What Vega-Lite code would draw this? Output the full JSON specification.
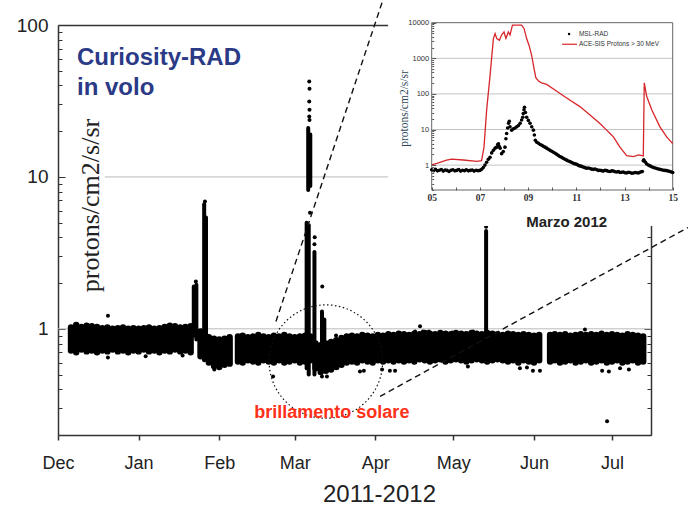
{
  "$schema": "https://vega.github.io/schema/vega-lite/v6.json",
  "width": 593,
  "height": 410,
  "autosize": {"type": "none"},
  "padding": {"left": 58, "top": 25, "right": 37, "bottom": 71},
  "background": "white",
  "config": {"view": {"stroke": null}, "font": "Liberation Sans"},
  "datasets": {
    "grid": [{"v": 1, "from": 0, "to": 228}, {"v": 10, "from": 18, "to": 228}],
    "band": [
      {"day": 5, "lo": 0.72, "hi": 1.02}, {"day": 7, "lo": 0.70, "hi": 1.06}, {"day": 9, "lo": 0.73, "hi": 1.03}, {"day": 11, "lo": 0.71, "hi": 1.05},
      {"day": 13, "lo": 0.72, "hi": 1.04}, {"day": 15, "lo": 0.70, "hi": 1.03}, {"day": 17, "lo": 0.72, "hi": 1.01}, {"day": 19, "lo": 0.71, "hi": 1.02},
      {"day": 21, "lo": 0.73, "hi": 1.00}, {"day": 23, "lo": 0.71, "hi": 1.01}, {"day": 25, "lo": 0.72, "hi": 1.02}, {"day": 27, "lo": 0.70, "hi": 1.00},
      {"day": 29, "lo": 0.72, "hi": 1.01}, {"day": 31, "lo": 0.71, "hi": 1.00}, {"day": 33, "lo": 0.73, "hi": 1.01}, {"day": 35, "lo": 0.71, "hi": 1.02},
      {"day": 37, "lo": 0.72, "hi": 1.00}, {"day": 39, "lo": 0.70, "hi": 1.01}, {"day": 41, "lo": 0.72, "hi": 1.03}, {"day": 43, "lo": 0.71, "hi": 1.05},
      {"day": 45, "lo": 0.73, "hi": 1.04}, {"day": 47, "lo": 0.71, "hi": 1.02}, {"day": 49, "lo": 0.72, "hi": 1.03}, {"day": 51, "lo": 0.70, "hi": 1.04},
      {"day": 54.8, "lo": 0.66, "hi": 0.96}, {"day": 56.5, "lo": 0.64, "hi": 0.92}, {"day": 58, "lo": 0.60, "hi": 0.88}, {"day": 60, "lo": 0.57, "hi": 0.86},
      {"day": 62, "lo": 0.56, "hi": 0.85}, {"day": 64, "lo": 0.58, "hi": 0.86}, {"day": 66, "lo": 0.59, "hi": 0.88},
      {"day": 69.2, "lo": 0.61, "hi": 0.89}, {"day": 71, "lo": 0.60, "hi": 0.90}, {"day": 73, "lo": 0.62, "hi": 0.88}, {"day": 75, "lo": 0.61, "hi": 0.89},
      {"day": 77, "lo": 0.60, "hi": 0.91}, {"day": 79, "lo": 0.62, "hi": 0.89}, {"day": 81, "lo": 0.61, "hi": 0.88}, {"day": 83, "lo": 0.60, "hi": 0.90},
      {"day": 85, "lo": 0.62, "hi": 0.89}, {"day": 87, "lo": 0.60, "hi": 0.91}, {"day": 89, "lo": 0.61, "hi": 0.89}, {"day": 91, "lo": 0.62, "hi": 0.88},
      {"day": 93, "lo": 0.60, "hi": 0.89}, {"day": 95, "lo": 0.61, "hi": 0.90}, {"day": 97, "lo": 0.62, "hi": 0.89},
      {"day": 99, "lo": 0.55, "hi": 0.80}, {"day": 101, "lo": 0.52, "hi": 0.78}, {"day": 103, "lo": 0.53, "hi": 0.80}, {"day": 105, "lo": 0.54, "hi": 0.82},
      {"day": 107, "lo": 0.56, "hi": 0.84}, {"day": 109, "lo": 0.58, "hi": 0.87}, {"day": 111, "lo": 0.60, "hi": 0.89}, {"day": 113, "lo": 0.61, "hi": 0.90},
      {"day": 115, "lo": 0.60, "hi": 0.89}, {"day": 117, "lo": 0.62, "hi": 0.91}, {"day": 119, "lo": 0.61, "hi": 0.90}, {"day": 121, "lo": 0.60, "hi": 0.89},
      {"day": 123, "lo": 0.62, "hi": 0.91}, {"day": 125, "lo": 0.61, "hi": 0.90}, {"day": 127, "lo": 0.62, "hi": 0.92}, {"day": 129, "lo": 0.61, "hi": 0.91},
      {"day": 131, "lo": 0.62, "hi": 0.93}, {"day": 133, "lo": 0.61, "hi": 0.92}, {"day": 135, "lo": 0.62, "hi": 0.91}, {"day": 137, "lo": 0.61, "hi": 0.93},
      {"day": 139, "lo": 0.63, "hi": 0.92}, {"day": 141, "lo": 0.62, "hi": 0.94}, {"day": 143, "lo": 0.61, "hi": 0.93}, {"day": 145, "lo": 0.62, "hi": 0.92},
      {"day": 147, "lo": 0.63, "hi": 0.94}, {"day": 149, "lo": 0.61, "hi": 0.93}, {"day": 151, "lo": 0.62, "hi": 0.92}, {"day": 153, "lo": 0.63, "hi": 0.94},
      {"day": 155, "lo": 0.62, "hi": 0.93}, {"day": 157, "lo": 0.61, "hi": 0.92}, {"day": 159, "lo": 0.62, "hi": 0.94}, {"day": 161, "lo": 0.63, "hi": 0.93},
      {"day": 163, "lo": 0.62, "hi": 0.92}, {"day": 165, "lo": 0.61, "hi": 0.94}, {"day": 167, "lo": 0.62, "hi": 0.93}, {"day": 169, "lo": 0.63, "hi": 0.92},
      {"day": 171, "lo": 0.62, "hi": 0.91}, {"day": 173, "lo": 0.61, "hi": 0.93}, {"day": 175, "lo": 0.62, "hi": 0.92}, {"day": 177, "lo": 0.60, "hi": 0.91},
      {"day": 179, "lo": 0.62, "hi": 0.92}, {"day": 181, "lo": 0.61, "hi": 0.91}, {"day": 183, "lo": 0.60, "hi": 0.90}, {"day": 185, "lo": 0.62, "hi": 0.91},
      {"day": 189.2, "lo": 0.61, "hi": 0.91}, {"day": 191, "lo": 0.62, "hi": 0.92}, {"day": 193, "lo": 0.60, "hi": 0.91}, {"day": 195, "lo": 0.61, "hi": 0.92},
      {"day": 197, "lo": 0.62, "hi": 0.90}, {"day": 199, "lo": 0.60, "hi": 0.91}, {"day": 201, "lo": 0.61, "hi": 0.92}, {"day": 203, "lo": 0.62, "hi": 0.91},
      {"day": 205, "lo": 0.60, "hi": 0.92}, {"day": 207, "lo": 0.61, "hi": 0.91}, {"day": 209, "lo": 0.62, "hi": 0.93}, {"day": 211, "lo": 0.60, "hi": 0.91},
      {"day": 213, "lo": 0.61, "hi": 0.92}, {"day": 215, "lo": 0.62, "hi": 0.91}, {"day": 217, "lo": 0.60, "hi": 0.90}, {"day": 219, "lo": 0.61, "hi": 0.92},
      {"day": 221, "lo": 0.62, "hi": 0.91}, {"day": 223, "lo": 0.60, "hi": 0.90}, {"day": 225, "lo": 0.61, "hi": 0.89}
    ],
    "spikes": [
      {"day": 52.2, "lo": 0.9, "hi": 1.9}, {"day": 53.2, "lo": 0.85, "hi": 1.95},
      {"day": 56.2, "lo": 0.62, "hi": 6.6}, {"day": 56.9, "lo": 0.7, "hi": 5.4},
      {"day": 95.6, "lo": 0.55, "hi": 5.0}, {"day": 96.4, "lo": 0.5, "hi": 4.8},
      {"day": 96.2, "lo": 8.2, "hi": 21}, {"day": 97.0, "lo": 8.7, "hi": 19},
      {"day": 98.6, "lo": 0.5, "hi": 3.2},
      {"day": 101.5, "lo": 0.55, "hi": 1.3}, {"day": 102.4, "lo": 0.6, "hi": 1.15},
      {"day": 164.6, "lo": 0.9, "hi": 4.4}
    ],
    "dots": [
      {"day": 56.5, "v": 6.9}, {"day": 96.9, "v": 5.8}, {"day": 96.7, "v": 23.7}, {"day": 96.6, "v": 25}, {"day": 96.7, "v": 27.7},
      {"day": 96.6, "v": 31.4}, {"day": 96.7, "v": 38}, {"day": 96.6, "v": 42.4}, {"day": 98.6, "v": 3.6}, {"day": 98.7, "v": 4.0},
      {"day": 101.6, "v": 1.9}, {"day": 164.6, "v": 4.7}, {"day": 53, "v": 2.05},
      {"day": 19.2, "v": 1.22}, {"day": 19.2, "v": 0.647}, {"day": 33.7, "v": 0.66}, {"day": 47.9, "v": 0.667}, {"day": 60.1, "v": 0.54},
      {"day": 66.1, "v": 0.6}, {"day": 82.7, "v": 0.486}, {"day": 101.5, "v": 0.486}, {"day": 103.4, "v": 0.486}, {"day": 116.1, "v": 0.524},
      {"day": 117.6, "v": 0.53}, {"day": 124.6, "v": 0.54}, {"day": 127.6, "v": 0.53}, {"day": 129.6, "v": 0.53}, {"day": 106.9, "v": 0.904},
      {"day": 137.3, "v": 0.96}, {"day": 139.2, "v": 1.04}, {"day": 140.3, "v": 0.96}, {"day": 142.6, "v": 0.96}, {"day": 151.5, "v": 0.946},
      {"day": 159.6, "v": 0.96}, {"day": 157.6, "v": 0.565}, {"day": 177.6, "v": 0.55}, {"day": 180.3, "v": 0.557}, {"day": 182.6, "v": 0.53},
      {"day": 185.3, "v": 0.53}, {"day": 202.6, "v": 0.99}, {"day": 209.2, "v": 0.53}, {"day": 211.8, "v": 0.524}, {"day": 216.1, "v": 0.55},
      {"day": 219.5, "v": 0.54}, {"day": 211.1, "v": 0.246}
    ],
    "dash": [
      {"seg": "a", "day": 83.8, "v": 1.117}, {"seg": "a", "day": 124.95, "v": 146.7},
      {"seg": "b", "day": 123.8, "v": 0.359}, {"seg": "b", "day": 242.2, "v": 4.64}
    ],
    "circle": [{"day": 103, "v": 0.609}],
    "title1": [{"day": 7.3, "v": 54.8, "label": "Curiosity-RAD"}, {"day": 7.3, "v": 34.8, "label": "in volo"}],
    "note": [{"day": 105.3, "v": 0.257, "label": "brillamento solare"}],
    "ibg": [{"a": 3.19, "b": 15.63, "lo": 0.0195, "hi": 43500}],
    "igrid": [{"v": 1, "a": 5, "b": 15}, {"v": 10, "a": 5, "b": 15}, {"v": 100, "a": 5, "b": 15}, {"v": 1000, "a": 5, "b": 15}],
    "iframe": [{"a": 5, "b": 15, "lo": 0.2, "hi": 10000}],
    "ace": [
      {"d": 5.00, "v": 1.02}, {"d": 5.21, "v": 1.12}, {"d": 5.62, "v": 1.39}, {"d": 5.83, "v": 1.48}, {"d": 6.31, "v": 1.39},
      {"d": 6.87, "v": 1.27}, {"d": 7.07, "v": 1.33}, {"d": 7.17, "v": 3.2}, {"d": 7.28, "v": 35.7}, {"d": 7.42, "v": 320},
      {"d": 7.56, "v": 3580}, {"d": 7.63, "v": 4950}, {"d": 7.70, "v": 3580}, {"d": 7.81, "v": 3200}, {"d": 7.90, "v": 4500},
      {"d": 8.00, "v": 5500}, {"d": 8.08, "v": 3600}, {"d": 8.18, "v": 5500}, {"d": 8.25, "v": 4500}, {"d": 8.35, "v": 8500},
      {"d": 8.73, "v": 8500}, {"d": 8.83, "v": 6900}, {"d": 8.94, "v": 3580}, {"d": 9.04, "v": 2300}, {"d": 9.15, "v": 1190},
      {"d": 9.25, "v": 500}, {"d": 9.32, "v": 285}, {"d": 9.43, "v": 230}, {"d": 9.56, "v": 205}, {"d": 9.77, "v": 185},
      {"d": 10.19, "v": 119}, {"d": 10.60, "v": 77}, {"d": 11.15, "v": 44}, {"d": 11.57, "v": 25.7}, {"d": 11.98, "v": 14.8},
      {"d": 12.26, "v": 9.6}, {"d": 12.40, "v": 7.7}, {"d": 12.54, "v": 6.2}, {"d": 12.81, "v": 3.2}, {"d": 13.09, "v": 1.85},
      {"d": 13.37, "v": 1.73}, {"d": 13.58, "v": 1.93}, {"d": 13.78, "v": 1.81}, {"d": 13.82, "v": 205}, {"d": 13.92, "v": 86},
      {"d": 14.13, "v": 35.7}, {"d": 14.47, "v": 11.9}, {"d": 14.75, "v": 6.2}, {"d": 15.00, "v": 4.0}
    ],
    "msl": [
      {"d": 5.00, "v": 0.74}, {"d": 5.08, "v": 0.70}, {"d": 5.16, "v": 0.76}, {"d": 5.24, "v": 0.69}, {"d": 5.32, "v": 0.72},
      {"d": 5.40, "v": 0.75}, {"d": 5.48, "v": 0.68}, {"d": 5.56, "v": 0.73}, {"d": 5.64, "v": 0.71}, {"d": 5.72, "v": 0.66},
      {"d": 5.80, "v": 0.72}, {"d": 5.88, "v": 0.74}, {"d": 5.96, "v": 0.69}, {"d": 6.04, "v": 0.71}, {"d": 6.12, "v": 0.75},
      {"d": 6.20, "v": 0.68}, {"d": 6.28, "v": 0.72}, {"d": 6.36, "v": 0.70}, {"d": 6.44, "v": 0.74}, {"d": 6.52, "v": 0.69},
      {"d": 6.60, "v": 0.71}, {"d": 6.68, "v": 0.73}, {"d": 6.76, "v": 0.68}, {"d": 6.84, "v": 0.72}, {"d": 6.92, "v": 0.70},
      {"d": 7.00, "v": 0.71}, {"d": 7.07, "v": 0.76}, {"d": 7.14, "v": 0.86}, {"d": 7.21, "v": 1.0}, {"d": 7.28, "v": 1.2},
      {"d": 7.35, "v": 1.45}, {"d": 7.42, "v": 1.65}, {"d": 7.49, "v": 2.2}, {"d": 7.56, "v": 2.6}, {"d": 7.63, "v": 3.0},
      {"d": 7.70, "v": 3.2}, {"d": 7.74, "v": 3.8}, {"d": 7.77, "v": 4.0}, {"d": 7.80, "v": 3.4}, {"d": 7.84, "v": 3.0},
      {"d": 7.90, "v": 2.1}, {"d": 7.97, "v": 2.4}, {"d": 8.04, "v": 3.2}, {"d": 8.08, "v": 5.5}, {"d": 8.11, "v": 7.7},
      {"d": 8.15, "v": 11}, {"d": 8.19, "v": 15}, {"d": 8.22, "v": 17}, {"d": 8.25, "v": 12}, {"d": 8.32, "v": 9.6},
      {"d": 8.39, "v": 10.5}, {"d": 8.46, "v": 11}, {"d": 8.53, "v": 12}, {"d": 8.60, "v": 13}, {"d": 8.67, "v": 15},
      {"d": 8.73, "v": 18.5}, {"d": 8.78, "v": 22}, {"d": 8.80, "v": 28}, {"d": 8.83, "v": 36}, {"d": 8.85, "v": 42},
      {"d": 8.89, "v": 30}, {"d": 8.94, "v": 22}, {"d": 9.01, "v": 18}, {"d": 9.08, "v": 15}, {"d": 9.15, "v": 12},
      {"d": 9.22, "v": 9.6}, {"d": 9.26, "v": 7}, {"d": 9.30, "v": 5}, {"d": 9.36, "v": 4.4}, {"d": 9.43, "v": 4.1},
      {"d": 9.50, "v": 3.8}, {"d": 9.57, "v": 3.6}, {"d": 9.63, "v": 3.4}, {"d": 9.70, "v": 3.2}, {"d": 9.77, "v": 3.0},
      {"d": 9.84, "v": 2.8}, {"d": 9.91, "v": 2.6}, {"d": 9.98, "v": 2.45}, {"d": 10.05, "v": 2.3}, {"d": 10.12, "v": 2.15},
      {"d": 10.19, "v": 2.0}, {"d": 10.26, "v": 1.85}, {"d": 10.32, "v": 1.75}, {"d": 10.39, "v": 1.65}, {"d": 10.46, "v": 1.55},
      {"d": 10.53, "v": 1.46}, {"d": 10.60, "v": 1.38}, {"d": 10.67, "v": 1.3}, {"d": 10.74, "v": 1.25}, {"d": 10.81, "v": 1.18},
      {"d": 10.88, "v": 1.12}, {"d": 10.95, "v": 1.08}, {"d": 11.02, "v": 1.05}, {"d": 11.09, "v": 0.98}, {"d": 11.15, "v": 0.95},
      {"d": 11.22, "v": 0.92}, {"d": 11.29, "v": 0.88}, {"d": 11.36, "v": 0.85}, {"d": 11.43, "v": 0.82}, {"d": 11.50, "v": 0.83},
      {"d": 11.57, "v": 0.8}, {"d": 11.64, "v": 0.77}, {"d": 11.71, "v": 0.76}, {"d": 11.78, "v": 0.78}, {"d": 11.85, "v": 0.74},
      {"d": 11.92, "v": 0.71}, {"d": 11.98, "v": 0.72}, {"d": 12.05, "v": 0.70}, {"d": 12.12, "v": 0.68}, {"d": 12.19, "v": 0.72},
      {"d": 12.26, "v": 0.70}, {"d": 12.33, "v": 0.67}, {"d": 12.40, "v": 0.66}, {"d": 12.47, "v": 0.69}, {"d": 12.54, "v": 0.68},
      {"d": 12.61, "v": 0.65}, {"d": 12.68, "v": 0.64}, {"d": 12.75, "v": 0.66}, {"d": 12.81, "v": 0.62}, {"d": 12.88, "v": 0.63},
      {"d": 12.95, "v": 0.64}, {"d": 13.02, "v": 0.61}, {"d": 13.09, "v": 0.60}, {"d": 13.16, "v": 0.63}, {"d": 13.23, "v": 0.62},
      {"d": 13.30, "v": 0.59}, {"d": 13.37, "v": 0.60}, {"d": 13.44, "v": 0.62}, {"d": 13.51, "v": 0.61}, {"d": 13.58, "v": 0.60},
      {"d": 13.64, "v": 0.63}, {"d": 13.70, "v": 0.65}, {"d": 13.74, "v": 0.66}, {"d": 13.78, "v": 1.33}, {"d": 13.80, "v": 1.4},
      {"d": 13.82, "v": 1.3}, {"d": 13.87, "v": 1.2}, {"d": 13.92, "v": 1.07}, {"d": 13.99, "v": 1.0}, {"d": 14.06, "v": 0.95},
      {"d": 14.13, "v": 0.9}, {"d": 14.20, "v": 0.86}, {"d": 14.27, "v": 0.83}, {"d": 14.34, "v": 0.8}, {"d": 14.40, "v": 0.78},
      {"d": 14.47, "v": 0.76}, {"d": 14.54, "v": 0.74}, {"d": 14.61, "v": 0.72}, {"d": 14.68, "v": 0.71}, {"d": 14.75, "v": 0.7},
      {"d": 14.82, "v": 0.68}, {"d": 14.89, "v": 0.66}, {"d": 14.95, "v": 0.64}, {"d": 15.00, "v": 0.62}
    ],
    "ilegdot": [{"d": 10.70, "v": 4820}],
    "ilegline": [{"a": 10.41, "b": 11.03, "v": 2480}],
    "ilegtext": [{"d": 11.11, "v": 4820, "label": "MSL-RAD"}, {"d": 11.11, "v": 2480, "label": "ACE-SIS Protons > 30 MeV"}],
    "imonth": [{"d": 10.6, "v": 0.0186, "label": "Marzo 2012"}]
  },
  "layer": [
    {
      "layer": [
        {
          "data": {"name": "grid"},
          "mark": {"type": "rule", "color": "#bbbbbb", "strokeWidth": 1},
          "encoding": {
            "x": {"field": "from", "type": "quantitative", "scale": {"domain": [0, 228], "nice": false, "zero": false},
              "axis": {"orient": "bottom", "values": [0, 31, 62, 91, 122, 152, 183, 213],
                "labelExpr": "['Dec','Jan','Feb','Mar','Apr','May','Jun','Jul'][indexof([0,31,62,91,122,152,183,213], datum.value)]",
                "labelFontSize": 18, "labelColor": "#222", "labelPadding": 14, "labelDx": -6, "labelFlush": false, "labelOverlap": false,
                "tickSize": 5, "tickColor": "#333", "tickWidth": 1.5, "domainColor": "#333", "domainWidth": 1.5, "grid": false,
                "title": "2011-2012", "titleFontSize": 24, "titleFontWeight": "normal", "titleColor": "#222",
                "titleX": 321, "titleY": 66, "titleAlign": "center", "titleBaseline": "alphabetic"}},
            "x2": {"field": "to"},
            "y": {"field": "v", "type": "quantitative", "scale": {"type": "log", "domain": [0.2, 100], "nice": false},
              "axis": {"orient": "left", "values": [1, 10, 100], "format": "d", "ticks": false, "labelFontSize": 19, "labelColor": "#222",
                "labelPadding": 10, "labelFlush": false, "labelOverlap": false, "domainColor": "#333", "domainWidth": 1.5, "grid": false,
                "title": "protons/cm2/s/sr", "titleFont": "Liberation Serif", "titleFontSize": 26, "titleFontWeight": "normal", "titleColor": "#222",
                "titleX": 40, "titleY": 180, "titleAngle": 270, "titleAlign": "center", "titleBaseline": "alphabetic"}}
          }
        },
        {
          "data": {"name": "band"},
          "mark": {"type": "rule", "color": "#000", "strokeWidth": 6.4, "strokeCap": "round"},
          "encoding": {
            "x": {"field": "day", "type": "quantitative", "axis": null},
            "y": {"field": "lo", "type": "quantitative", "axis": null},
            "y2": {"field": "hi"}
          }
        },
        {
          "data": {"name": "spikes"},
          "mark": {"type": "rule", "color": "#000", "strokeWidth": 4, "strokeCap": "round"},
          "encoding": {
            "x": {"field": "day", "type": "quantitative", "axis": null},
            "y": {"field": "lo", "type": "quantitative", "axis": null},
            "y2": {"field": "hi"}
          }
        },
        {
          "data": {"name": "dots"},
          "mark": {"type": "point", "shape": "circle", "filled": true, "color": "#000", "size": 16, "opacity": 1},
          "encoding": {
            "x": {"field": "day", "type": "quantitative", "axis": null},
            "y": {"field": "v", "type": "quantitative", "axis": null}
          }
        },
        {
          "data": {"name": "dash"},
          "mark": {"type": "line", "color": "#111", "strokeWidth": 1.4, "strokeDash": [6, 4]},
          "encoding": {
            "x": {"field": "day", "type": "quantitative",
              "axis": {"orient": "top", "ticks": false, "labels": false, "domainColor": "#333", "domainWidth": 1.5, "grid": false, "title": null}},
            "y": {"field": "v", "type": "quantitative",
              "axis": {"orient": "right", "values": [0.2, 0.3, 0.4, 0.5, 0.6, 0.7, 0.8, 0.9, 1, 2, 3, 4, 5, 6, 7, 8, 9, 10, 20, 30, 40, 50, 60, 70, 80, 90, 100],
                "labels": false, "grid": false, "title": null, "domainColor": "#333", "domainWidth": 1.5, "tickColor": "#333",
                "tickSize": {"condition": {"test": "datum.value == 1 || datum.value == 10 || datum.value == 100", "value": -7}, "value": -4}}},
            "detail": {"field": "seg"}
          }
        },
        {
          "data": {"name": "circle"},
          "mark": {"type": "point", "shape": "circle", "filled": false, "size": 12868, "stroke": "#111", "strokeWidth": 1.2, "strokeDash": [1.5, 2.5], "opacity": 1},
          "encoding": {
            "x": {"field": "day", "type": "quantitative", "axis": null},
            "y": {"field": "v", "type": "quantitative",
              "axis": {"orient": "left", "values": [0.2, 0.3, 0.4, 0.5, 0.6, 0.7, 0.8, 0.9, 1, 2, 3, 4, 5, 6, 7, 8, 9, 10, 20, 30, 40, 50, 60, 70, 80, 90, 100],
                "labels": false, "domain": false, "grid": false, "title": null, "tickColor": "#333",
                "tickSize": {"condition": {"test": "datum.value == 1 || datum.value == 10 || datum.value == 100", "value": -7}, "value": -4}}}
          }
        },
        {
          "data": {"name": "title1"},
          "mark": {"type": "text", "font": "Liberation Sans", "fontWeight": "bold", "fontSize": 24, "color": "#2b3a86", "align": "left", "baseline": "alphabetic"},
          "encoding": {
            "x": {"field": "day", "type": "quantitative", "axis": null},
            "y": {"field": "v", "type": "quantitative", "axis": null},
            "text": {"field": "label"}
          }
        },
        {
          "data": {"name": "note"},
          "mark": {"type": "text", "font": "Liberation Sans", "fontWeight": "bold", "fontSize": 18, "color": "#ff3219", "align": "center", "baseline": "alphabetic"},
          "encoding": {
            "x": {"field": "day", "type": "quantitative", "axis": null},
            "y": {"field": "v", "type": "quantitative", "axis": null},
            "text": {"field": "label"}
          }
        }
      ],
      "resolve": {"axis": {"x": "independent", "y": "independent"}}
    },
    {
      "layer": [
        {
          "data": {"name": "ibg"},
          "mark": {"type": "rect", "fill": "white", "stroke": null},
          "encoding": {
            "x": {"field": "a", "type": "quantitative", "scale": {"domain": [5, 15], "range": [373.7, 614.7], "nice": false, "zero": false}, "axis": null},
            "x2": {"field": "b"},
            "y": {"field": "lo", "type": "quantitative", "scale": {"type": "log", "domain": [0.2, 10000], "range": [165, -2.3], "nice": false}, "axis": null},
            "y2": {"field": "hi"}
          }
        },
        {
          "data": {"name": "igrid"},
          "mark": {"type": "rule", "color": "#b5b5b5", "strokeWidth": 0.8},
          "encoding": {
            "x": {"field": "a", "type": "quantitative", "scale": {"domain": [5, 15], "range": [373.7, 614.7], "nice": false, "zero": false},
              "axis": {"orient": "bottom", "offset": -245, "values": [5, 6, 7, 8, 9, 10, 11, 12, 13, 14, 15], "labels": false, "domain": false,
                "grid": false, "title": null, "tickSize": -3, "tickColor": "#555", "zindex": 1}},
            "x2": {"field": "b"},
            "y": {"field": "v", "type": "quantitative", "scale": {"type": "log", "domain": [0.2, 10000], "range": [165, -2.3], "nice": false},
              "axis": {"orient": "left", "offset": -373.7,
                "values": [0.2, 0.3, 0.4, 0.5, 0.6, 0.7, 0.8, 0.9, 1, 2, 3, 4, 5, 6, 7, 8, 9, 10, 20, 30, 40, 50, 60, 70, 80, 90, 100, 200, 300, 400, 500, 600, 700, 800, 900, 1000, 2000, 3000, 4000, 5000, 6000, 7000, 8000, 9000, 10000],
                "labels": false, "domain": false, "grid": false, "title": null, "tickColor": "#555", "zindex": 1,
                "tickSize": {"condition": {"test": "datum.value == 1 || datum.value == 10 || datum.value == 100 || datum.value == 1000 || datum.value == 10000", "value": -4}, "value": -2}}}
          }
        },
        {
          "data": {"name": "iframe"},
          "mark": {"type": "rect", "fill": null, "fillOpacity": 0, "stroke": "#666", "strokeWidth": 1},
          "encoding": {
            "x": {"field": "a", "type": "quantitative", "scale": {"domain": [5, 15], "range": [373.7, 614.7], "nice": false, "zero": false},
              "axis": {"orient": "bottom", "offset": -245, "values": [5, 7, 9, 11, 13, 15], "format": "02d", "ticks": false, "domain": false,
                "labelFont": "Liberation Serif", "labelFontSize": 9.5, "labelFontWeight": "bold", "labelColor": "#333", "labelPadding": 2,
                "labelFlush": false, "labelOverlap": false, "grid": false, "title": null, "zindex": 1}},
            "x2": {"field": "b"},
            "y": {"field": "lo", "type": "quantitative", "scale": {"type": "log", "domain": [0.2, 10000], "range": [165, -2.3], "nice": false},
              "axis": {"orient": "left", "offset": -373.7, "values": [1, 10, 100, 1000, 10000], "format": "d", "ticks": false, "domain": false,
                "labelFontSize": 7.5, "labelColor": "#333", "labelPadding": 3, "labelFlush": false, "labelOverlap": false, "grid": false, "zindex": 1,
                "title": "protons/cm2/s/sr", "titleFont": "Liberation Serif", "titleFontSize": 11.5, "titleFontWeight": "normal", "titleColor": "#2f4858",
                "titleX": -24, "titleY": 83, "titleAngle": 270, "titleAlign": "center", "titleBaseline": "alphabetic"}},
            "y2": {"field": "hi"}
          }
        },
        {
          "data": {"name": "ace"},
          "mark": {"type": "line", "color": "#d7262b", "strokeWidth": 1.3},
          "encoding": {
            "x": {"field": "d", "type": "quantitative", "scale": {"domain": [5, 15], "range": [373.7, 614.7], "nice": false, "zero": false}, "axis": null},
            "y": {"field": "v", "type": "quantitative", "scale": {"type": "log", "domain": [0.2, 10000], "range": [165, -2.3], "nice": false}, "axis": null}
          }
        },
        {
          "data": {"name": "msl"},
          "mark": {"type": "point", "shape": "circle", "filled": true, "color": "#000", "size": 13, "opacity": 1},
          "encoding": {
            "x": {"field": "d", "type": "quantitative", "scale": {"domain": [5, 15], "range": [373.7, 614.7], "nice": false, "zero": false}, "axis": null},
            "y": {"field": "v", "type": "quantitative", "scale": {"type": "log", "domain": [0.2, 10000], "range": [165, -2.3], "nice": false}, "axis": null}
          }
        },
        {
          "data": {"name": "ilegdot"},
          "mark": {"type": "point", "shape": "circle", "filled": true, "color": "#000", "size": 6, "opacity": 1},
          "encoding": {
            "x": {"field": "d", "type": "quantitative", "scale": {"domain": [5, 15], "range": [373.7, 614.7], "nice": false, "zero": false}, "axis": null},
            "y": {"field": "v", "type": "quantitative", "scale": {"type": "log", "domain": [0.2, 10000], "range": [165, -2.3], "nice": false}, "axis": null}
          }
        },
        {
          "data": {"name": "ilegline"},
          "mark": {"type": "rule", "color": "#d7262b", "strokeWidth": 1.2},
          "encoding": {
            "x": {"field": "a", "type": "quantitative", "scale": {"domain": [5, 15], "range": [373.7, 614.7], "nice": false, "zero": false}, "axis": null},
            "x2": {"field": "b"},
            "y": {"field": "v", "type": "quantitative", "scale": {"type": "log", "domain": [0.2, 10000], "range": [165, -2.3], "nice": false}, "axis": null}
          }
        },
        {
          "data": {"name": "ilegtext"},
          "mark": {"type": "text", "fontSize": 6.5, "color": "#333", "align": "left", "baseline": "middle"},
          "encoding": {
            "x": {"field": "d", "type": "quantitative", "scale": {"domain": [5, 15], "range": [373.7, 614.7], "nice": false, "zero": false}, "axis": null},
            "y": {"field": "v", "type": "quantitative", "scale": {"type": "log", "domain": [0.2, 10000], "range": [165, -2.3], "nice": false}, "axis": null},
            "text": {"field": "label"}
          }
        },
        {
          "data": {"name": "imonth"},
          "mark": {"type": "text", "fontSize": 15, "fontWeight": "bold", "color": "#222", "align": "center", "baseline": "alphabetic"},
          "encoding": {
            "x": {"field": "d", "type": "quantitative", "scale": {"domain": [5, 15], "range": [373.7, 614.7], "nice": false, "zero": false}, "axis": null},
            "y": {"field": "v", "type": "quantitative", "scale": {"type": "log", "domain": [0.2, 10000], "range": [165, -2.3], "nice": false}, "axis": null},
            "text": {"field": "label"}
          }
        }
      ],
      "resolve": {"axis": {"x": "independent", "y": "independent"}}
    }
  ],
  "resolve": {"scale": {"x": "independent", "y": "independent"}, "axis": {"x": "independent", "y": "independent"}}
}
